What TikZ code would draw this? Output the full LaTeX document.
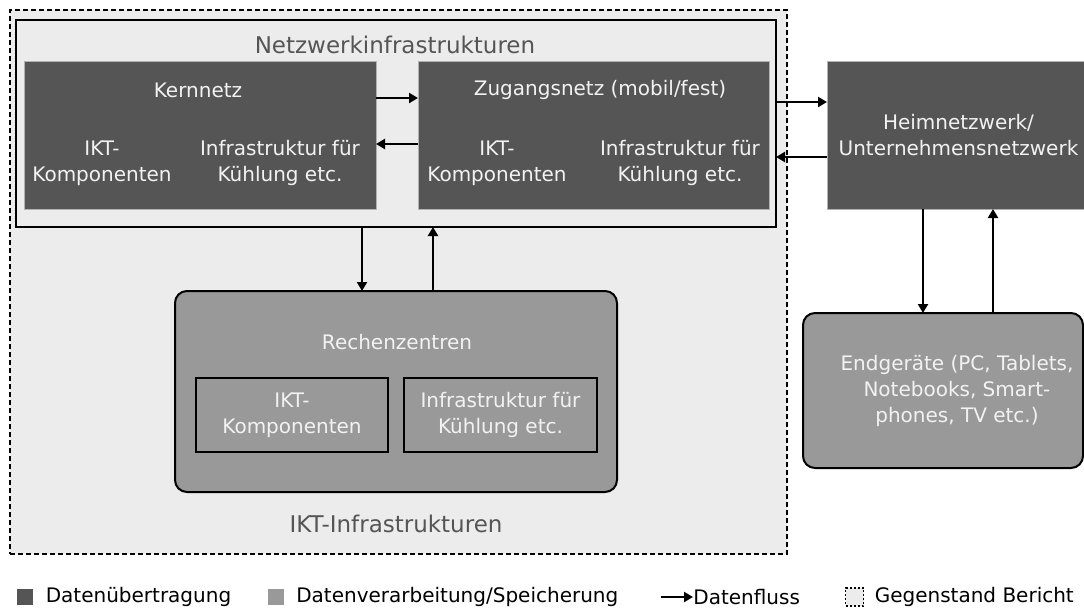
\documentclass[tikz,border=0pt]{standalone}
\usepackage{fontspec}
\setmainfont{DejaVu Sans}
\usepackage{tikz}
\usetikzlibrary{positioning,arrows.meta}

\definecolor{dunkel}{HTML}{555555}
\definecolor{mittel}{HTML}{999999}
\definecolor{hell}{HTML}{ECECEC}
\definecolor{schrift}{HTML}{F2F2F2}

\begin{document}
\begin{tikzpicture}[x=0.5pt,y=-0.5pt,>={Triangle[length=4.5pt,width=5pt]},
                    font=\fontsize{10}{13}\selectfont]
  \tikzstyle{uebertragung}=[fill=dunkel,draw=black!30,line width=0.5pt,inner sep=0pt,outer sep=0pt]
  \tikzstyle{verarbeitung}=[fill=mittel,draw=black,line width=1pt,rounded corners=6pt,inner sep=0pt,outer sep=0pt]
  \tikzstyle{teil}=[fill=mittel,draw=black,line width=1pt,inner sep=0pt,outer sep=0pt]
  \tikzstyle{inhalt}=[text=schrift,align=center]
  \tikzstyle{titel}=[text=dunkel,font=\fontsize{11.5}{14}\selectfont]
  \tikzstyle{flow}=[->,line width=1.3pt]
  \tikzstyle{legende}=[inner sep=0pt,anchor=west]

  \useasboundingbox (0,0) rectangle (1084,607);

  % Gegenstand Bericht
  \node[fill=hell,draw=black,line width=1.2pt,dash pattern=on 2.5pt off 1.5pt,
        minimum width=388.5pt,minimum height=272pt,inner sep=0pt] (bericht) at (398.5,282) {};

  % Netzwerkinfrastrukturen
  \node[fill=hell,draw=black,line width=1pt,minimum width=380pt,minimum height=103.5pt,
        inner sep=0pt,outer sep=0pt] (netz) at (396,123.5) {};
  \node[titel] (netztitel) at (395,45) {Netzwerkinfrastrukturen};

  \node[uebertragung,minimum width=176pt,minimum height=74pt] (kern) at (200,135) {};
  \node[inhalt] (kerntitel) at (198,90) {Kernnetz};
  \node[inhalt] (kernikt)   at (102,163) {IKT-\\Komponenten};
  \node[inhalt] (kerninf)   at (280,163) {Infrastruktur für\\Kühlung etc.};

  \node[uebertragung,minimum width=175.5pt,minimum height=74pt] (zug) at (593.5,135) {};
  \node[inhalt] (zugtitel) at (600,90) {Zugangsnetz (mobil/fest)};
  \node[inhalt] (zugikt)   at (497,163) {IKT-\\Komponenten};
  \node[inhalt] (zuginf)   at (680,163) {Infrastruktur für\\Kühlung etc.};

  \node[uebertragung,inhalt,minimum width=131.5pt,minimum height=74pt] (heim) at (958.5,135)
       {Heimnetzwerk/\\Unternehmensnetzwerk};

  % Rechenzentren
  \node[verarbeitung,minimum width=221pt,minimum height=100.5pt] (rz) at (396,391.5) {};
  \node[inhalt] (rztitel) at (397,342) {Rechenzentren};
  \node[teil,inhalt,minimum width=96pt,minimum height=37pt] (rzikt) at (292,415) {IKT-\\Komponenten};
  \node[teil,inhalt,minimum width=96.5pt,minimum height=37pt] (rzinf) at (500.5,415) {Infrastruktur für\\Kühlung etc.};
  \node[titel] (ikttitel) at (396,524) {IKT-Infrastrukturen};

  % Endgeraete
  \node[verarbeitung,minimum width=140pt,minimum height=77.5pt] (end) at (943,390.5) {};
  \node[inhalt] (endtext) at (957,391) {Endgeräte (PC, Tablets,\\Notebooks, Smart-\\phones, TV etc.)};

  % Datenfluss
  \draw[flow] ([yshift=18.5pt]kern.east) -- ([yshift=18.5pt]zug.west);
  \draw[flow] ([yshift=-4.5pt]zug.west) -- ([yshift=-4.5pt]kern.east);
  \draw[flow] ([yshift=10.75pt]netz.east) -- ([yshift=16.5pt]heim.west);
  \draw[flow] ([yshift=-11pt]heim.west) -- ([yshift=-16.75pt]netz.east);
  \draw[flow] ([xshift=-17pt]netz.south) -- ([xshift=-17pt]rz.north);
  \draw[flow] ([xshift=18.5pt]rz.north) -- ([xshift=18.5pt]netz.south);
  \draw[flow] ([xshift=-17.75pt]heim.south) -- ([xshift=-10pt]end.north);
  \draw[flow] ([xshift=25pt]end.north) -- ([xshift=17.25pt]heim.south);

  % Legende
  \node[fill=dunkel,minimum size=8pt,inner sep=0pt] (legdunkel) at (25,597) {};
  \node[legende,right=6pt of legdunkel] (legdunkeltext) {Datenübertragung};
  \node[fill=mittel,minimum size=8pt,inner sep=0pt] (legmittel) at (275.5,597) {};
  \node[legende,right=6pt of legmittel] (legmitteltext) {Datenverarbeitung/Speicherung};
  \coordinate (legpfeil) at (661,597);
  \node[legende] (legfluss) at (693,597) {Datenfluss};
  \draw[flow] (legpfeil) -- (legfluss.west);
  \node[fill=hell,draw=black,dash pattern=on 1pt off 1pt,line width=0.9pt,minimum size=9pt,inner sep=0pt] (legbericht) at (854.5,597) {};
  \node[legende,right=5pt of legbericht] (legberichttext) {Gegenstand Bericht};
\end{tikzpicture}
\end{document}
